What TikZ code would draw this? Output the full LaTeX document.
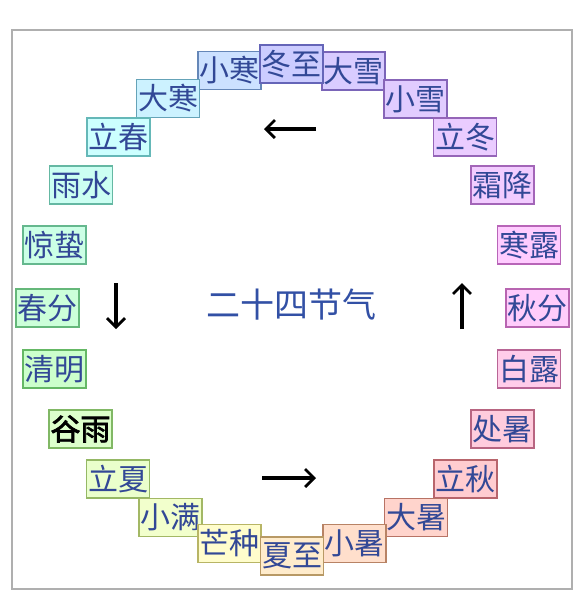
\documentclass[tikz,border=0pt]{standalone}
\usepackage{fontspec}
\newfontfamily\cjk{Noto Sans CJK SC}
\newfontfamily\cjkbold[FakeBold=2.5]{Noto Sans CJK SC}
\usetikzlibrary{arrows.meta}
\definecolor{termtext}{RGB}{50,72,150}
\definecolor{titletext}{RGB}{50,80,165}
\definecolor{framegray}{RGB}{175,175,175}
\newcommand\termnode[5]{%
  \convertcolorspec{Hsb}{#4,0.2,1}{rgb}\tmpfillspec
  \definecolor{tf#1}{rgb}{\tmpfillspec}%
  \convertcolorspec{Hsb}{#4,0.45,0.72}{rgb}\tmpdrawspec
  \definecolor{tb#1}{rgb}{\tmpdrawspec}%
  \node[termbox, fill=tf#1, draw=tb#1] (#1) at (#2,#3) {#5};}
\begin{document}
\begin{tikzpicture}[x=1pt,y=-1pt,
  termbox/.style={rectangle, inner sep=0pt, minimum width=63pt, minimum height=38pt,
    line width=1.3pt, text=termtext, font=\cjk\fontsize{30}{30}\selectfont},
  dirarrow/.style={line width=3.2pt, -{Straight Barb[length=9pt,width=18pt,line width=2.8pt]}},
  titlestyle/.style={text=titletext, font=\cjk\fontsize{34}{34}\selectfont}]
\useasboundingbox (0,0) rectangle (583,600);
\fill[white] (0,0) rectangle (583,600);
\draw[framegray, line width=1.5pt] (12,30) rectangle (572,589);
% left side (top to bottom)
\termnode{xh}{229.5}{70.5}{215}{小寒}
\termnode{dh}{168}{98.5}{195}{大寒}
\termnode{lc}{118.5}{137}{180}{立春}
\termnode{ys}{81}{185}{165}{雨水}
\termnode{jz}{54.5}{245}{150}{惊蛰}
\termnode{cf}{47.5}{308}{135}{春分}
\termnode{qm}{54.5}{369}{120}{清明}
\termnode{gy}{80.5}{429}{100}{\cjkbold\color{black}谷雨}
\termnode{lx}{118}{479}{85}{立夏}
\termnode{xm}{170.5}{517.5}{75}{小满}
\termnode{mz}{229.5}{543.5}{58}{芒种}
% right side (top to bottom)
\termnode{dx}{353.5}{71}{255}{大雪}
\termnode{xx}{415.5}{99}{265}{小雪}
\termnode{ld}{465}{137}{275}{立冬}
\termnode{sj}{502.5}{185}{285}{霜降}
\termnode{hl}{529}{245}{300}{寒露}
\termnode{qf}{537.5}{308}{305}{秋分}
\termnode{bl}{529}{369}{325}{白露}
\termnode{cs}{502.5}{429}{340}{处暑}
\termnode{lq}{465.5}{479}{355}{立秋}
\termnode{ds}{416}{517.5}{10}{大暑}
\termnode{xs}{354.5}{543.5}{22}{小暑}
% solstices
\termnode{xz}{292}{556}{38}{夏至}
\termnode{dz}{291.5}{64}{240}{冬至}
% title
\node[titlestyle] (title) at (291.5,305) {二十四节气};
% direction arrows
\coordinate (atop1) at (316,129); \coordinate (atop2) at (264,129);
\coordinate (aleft1) at (116,283); \coordinate (aleft2) at (116,329);
\coordinate (abot1) at (262,478); \coordinate (abot2) at (316,478);
\coordinate (aright1) at (462,329); \coordinate (aright2) at (462,283);
\draw[dirarrow] (atop1) -- (atop2);
\draw[dirarrow] (aleft1) -- (aleft2);
\draw[dirarrow] (abot1) -- (abot2);
\draw[dirarrow] (aright1) -- (aright2);
\end{tikzpicture}
\end{document}
